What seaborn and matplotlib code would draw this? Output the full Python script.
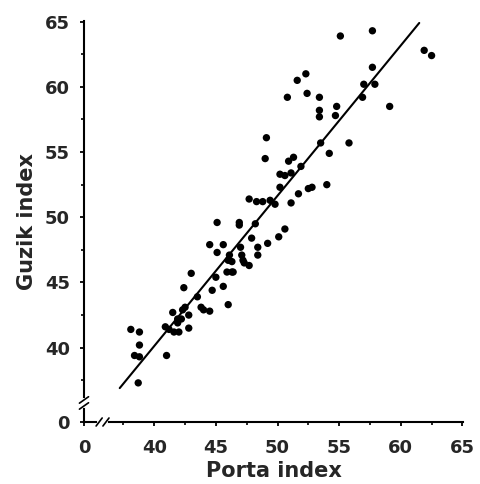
import matplotlib
matplotlib.use("Agg")
import matplotlib.pyplot as plt
import pandas as pd
import seaborn as sns

# values
porta = [
    55.1, 57.7, 61.9, 62.5, 57.7, 52.3, 51.6, 57.0, 57.9, 50.8,
    52.4, 53.4, 56.9, 54.8, 53.4, 53.4, 54.7, 59.1, 49.1, 53.5,
    55.8, 54.2, 49.0, 50.9, 51.3, 51.9, 50.2, 50.6, 51.1, 50.2,
    52.5, 52.8, 54.0, 51.7, 51.1, 47.7, 48.3, 48.8, 49.4, 49.8,
    45.1, 46.9, 46.9, 48.2, 50.6, 50.1, 49.2, 47.9, 48.4, 48.4,
    44.5, 45.6, 45.1, 46.1, 46.0, 46.3, 47.0, 47.1, 47.2, 47.3,
    47.7, 45.9, 46.3, 46.4, 43.0, 45.0, 45.6, 44.7, 42.4, 43.5,
    46.0, 43.8, 44.0, 44.5, 42.5, 42.3, 42.8, 41.5, 41.9, 42.2,
    41.9, 42.8, 40.9, 41.2, 41.6, 42.0, 41.0, 38.1, 38.8, 38.8,
    38.4, 38.8, 38.7,
]
guzik = [
    63.9, 64.3, 62.8, 62.4, 61.5, 61.0, 60.5, 60.2, 60.2, 59.2,
    59.5, 59.2, 59.2, 58.5, 58.2, 57.7, 57.8, 58.5, 56.1, 55.7,
    55.7, 54.9, 54.5, 54.3, 54.6, 53.9, 53.3, 53.2, 53.4, 52.3,
    52.2, 52.3, 52.5, 51.8, 51.1, 51.4, 51.2, 51.2, 51.3, 51.0,
    49.6, 49.6, 49.4, 49.5, 49.1, 48.5, 48.0, 48.4, 47.7, 47.1,
    47.9, 47.9, 47.3, 47.1, 46.7, 46.6, 47.7, 47.1, 46.7, 46.5,
    46.3, 45.8, 45.8, 45.8, 45.7, 45.4, 44.7, 44.4, 44.6, 43.9,
    43.3, 43.1, 42.9, 42.8, 43.1, 42.9, 42.5, 42.7, 42.2, 42.2,
    41.9, 41.5, 41.6, 41.4, 41.2, 41.2, 39.4, 41.4, 41.2, 40.2,
    39.4, 39.3, 37.3,
]

# fitted line, end points
fit_porta = [37.2, 61.5]
fit_guzik = [36.9, 64.9]

major_ticks = [40, 45, 50, 55, 60, 65]
minor_ticks = [37.5, 42.5, 47.5, 52.5, 57.5, 62.5]
axis_zero = 34.3  # where the broken axis shows "0"

points = pd.DataFrame({"porta": porta, "guzik": guzik})
fit = pd.DataFrame({"porta": fit_porta, "guzik": fit_guzik})

sns.set_style("ticks")
plt.rcParams["font.family"] = ["DejaVu Sans"]
plt.rcParams["font.weight"] = "bold"

fig = plt.figure(figsize=(4.81, 4.84), dpi=100)
ax = fig.add_axes([0.1746, 0.1281, 0.788, 0.8285])

sns.scatterplot(data=points, x="porta", y="guzik", ax=ax,
                color="black", s=28, edgecolor="none", linewidth=0)
sns.lineplot(data=fit, x="porta", y="guzik", ax=ax,
             color="black", linewidth=1.5)

ax.set_xlim(axis_zero, 65.05)
ax.set_ylim(axis_zero, 65.05)

tick_pos = [axis_zero] + major_ticks
tick_lab = ["0"] + [str(t) for t in major_ticks]
ax.set_xticks(tick_pos, tick_lab)
ax.set_yticks(tick_pos, tick_lab)
ax.set_xticks(minor_ticks, minor=True)
ax.set_yticks(minor_ticks, minor=True)

ax.tick_params(axis="both", which="major", direction="out", length=3,
               width=1.3, labelsize=13, color="black")
ax.tick_params(axis="both", which="minor", direction="out", length=2,
               width=1.2, color="black")
ax.tick_params(axis="x", which="major", pad=9)
ax.tick_params(axis="y", which="major", pad=7)
for lab in ax.get_xticklabels() + ax.get_yticklabels():
    lab.set_fontweight("bold")

sns.despine(ax=ax)
for side in ["left", "bottom"]:
    ax.spines[side].set_linewidth(1.5)
    ax.spines[side].set_color("black")

ax.set_xlabel("Porta index", fontsize=15, fontweight="bold", labelpad=3)
ax.set_ylabel("Guzik index", fontsize=15, fontweight="bold", labelpad=6)

# axis break marks
kw = dict(transform=ax.transAxes, clip_on=False, color="black", linewidth=1.2)
ax.plot([0.040, 0.058], [0, 0], transform=ax.transAxes, clip_on=False,
        color="white", linewidth=3, zorder=5)
for bx in [0.040, 0.058]:
    ax.plot([bx - 0.008, bx + 0.008], [-0.01, 0.01], zorder=6, **kw)
ax.plot([0, 0], [0.040, 0.055], transform=ax.transAxes, clip_on=False,
        color="white", linewidth=3, zorder=5)
for by in [0.040, 0.055]:
    ax.plot([-0.012, 0.012], [by - 0.008, by + 0.008], zorder=6, **kw)

fig.savefig("out.png", dpi=100)
plt.close(fig)
